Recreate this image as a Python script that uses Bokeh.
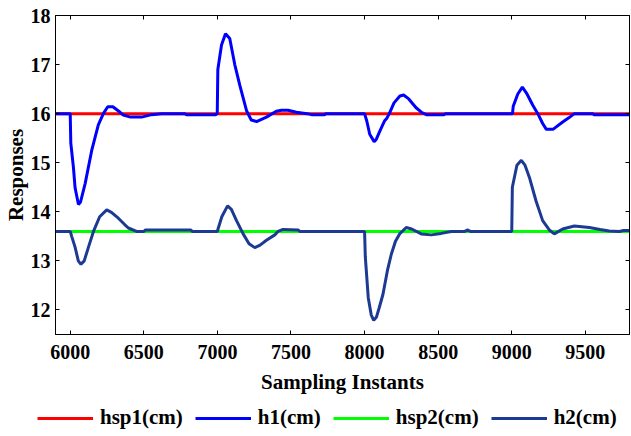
from bokeh.plotting import figure
from bokeh.layouts import column
from bokeh.models import Range1d, LinearAxis, Legend, LegendItem, FixedTicker, CustomJSTickFormatter
from bokeh.embed import file_html
from bokeh.resources import INLINE

# ---- data ----
sp_t = [5900, 9800]
hsp1 = [16.0, 16.0]
hsp2 = [13.6, 13.6]

h1_t = [5900, 6000, 6004, 6022, 6033, 6056, 6070, 6101, 6146, 6191, 6225, 6255, 6290,
        6330, 6361, 6410, 6485, 6553, 6620, 6780, 6790, 6990, 6999, 7003, 7028, 7055,
        7084, 7118, 7152, 7198, 7230, 7266, 7333, 7400, 7435, 7480, 7537, 7610, 7639,
        7729, 7735, 8000, 8015, 8035, 8065, 8080, 8100, 8120, 8135, 8150, 8168, 8200,
        8240, 8265, 8300, 8350, 8390, 8420, 8541, 8550, 9005, 9010, 9041, 9072, 9100,
        9143, 9177, 9210, 9235, 9280, 9346, 9390, 9425, 9550, 9560, 9800]
h1_v = [16.0, 16.0, 15.40, 14.90, 14.49, 14.15, 14.20, 14.57, 15.25, 15.77, 16.00, 16.14, 16.14,
        16.05, 15.97, 15.93, 15.93, 15.98, 16.00, 16.00, 15.98, 15.98, 16.00, 16.90, 17.40, 17.63,
        17.53, 17.00, 16.58, 16.06, 15.87, 15.84, 15.93, 16.05, 16.07, 16.07, 16.03, 16.00, 15.98,
        15.98, 16.00, 16.00, 15.85, 15.58, 15.43, 15.48, 15.62, 15.75, 15.85, 15.90, 16.00, 16.22,
        16.36, 16.38, 16.30, 16.12, 16.02, 15.98, 15.98, 16.00, 16.00, 16.15, 16.40, 16.54, 16.42,
        16.17, 16.00, 15.80, 15.68, 15.68, 15.83, 15.92, 16.00, 16.00, 15.98, 15.98]

h2_t = [5900, 6000, 6010, 6033, 6055, 6073, 6095, 6124, 6158, 6200, 6248, 6280, 6327,
        6370, 6395, 6451, 6500, 6510, 6820, 6830, 6999, 7030, 7069, 7095, 7130, 7175,
        7215, 7254, 7290, 7333, 7390, 7412, 7446, 7548, 7560, 8000, 8005, 8025, 8045,
        8062, 8080, 8100, 8125, 8155, 8182, 8210, 8238, 8283, 8320, 8385, 8453, 8521,
        8589, 8680, 8702, 8720, 9000, 9004, 9035, 9065, 9090, 9120, 9165, 9210, 9255,
        9289, 9346, 9425, 9527, 9600, 9662, 9730, 9760, 9800]
h2_v = [13.60, 13.60, 13.50, 13.28, 13.00, 12.93, 13.00, 13.28, 13.60, 13.90, 14.04, 13.99, 13.87,
        13.74, 13.67, 13.60, 13.60, 13.63, 13.63, 13.60, 13.60, 13.90, 14.12, 14.05, 13.82, 13.55,
        13.35, 13.27, 13.32, 13.42, 13.53, 13.60, 13.64, 13.63, 13.60, 13.60, 13.08, 12.25, 11.90,
        11.79, 11.85, 12.05, 12.32, 12.80, 13.14, 13.40, 13.55, 13.68, 13.65, 13.55, 13.53, 13.56,
        13.60, 13.60, 13.63, 13.60, 13.60, 14.50, 14.95, 15.05, 14.95, 14.70, 14.22, 13.82, 13.63,
        13.55, 13.65, 13.71, 13.68, 13.64, 13.61, 13.60, 13.62, 13.62]

x_ticks = [6000, 6500, 7000, 7500, 8000, 8500, 9000, 9500]
y_ticks = [12, 13, 14, 15, 16, 17, 18]
labels = ["hsp1(cm)", "h1(cm)", "hsp2(cm)", "h2(cm)"]
colors = ["#ff0000", "#0000ff", "#00ff00", "#1c3a94"]

FONT = "Liberation Serif"

p = figure(width=631, height=400, output_backend="svg", toolbar_location=None,
           x_range=Range1d(5900, 9800), y_range=Range1d(11.5, 18),
           min_border_left=54, min_border_right=2, min_border_top=15, min_border_bottom=66)
p.xgrid.visible = False
p.ygrid.visible = False
p.outline_line_color = "black"
p.background_fill_color = "white"
p.border_fill_color = "white"

series = [(sp_t, hsp1), (h1_t, h1_v), (sp_t, hsp2), (h2_t, h2_v)]
for (xs, ys), c in zip(series, colors):
    p.line(xs, ys, line_color=c, line_width=3)

for ax, tk in ((p.xaxis, x_ticks), (p.yaxis, y_ticks)):
    ax.ticker = FixedTicker(ticks=tk)
    ax.major_tick_in = 4
    ax.major_tick_out = 0
    ax.minor_tick_in = 0
    ax.minor_tick_out = 0
    ax.major_label_text_font = FONT
    ax.major_label_text_font_style = "bold"
    ax.major_label_text_font_size = "20px"
    ax.major_label_text_color = "black"
    ax.axis_label_text_font = FONT
    ax.axis_label_text_font_style = "bold"
    ax.axis_label_text_font_size = "21px"
    ax.axis_label_text_color = "black"
    ax.axis_line_color = "black"
    ax.major_tick_line_color = "black"

p.xaxis.axis_label = "Sampling Instants"
p.yaxis.axis_label = "Responses"
p.xaxis.major_label_standoff = 10
p.yaxis.major_label_standoff = 5
p.xaxis.axis_label_standoff = 8
p.yaxis.axis_label_standoff = 0

blank = CustomJSTickFormatter(code="return ''")
for loc, tk in (("above", x_ticks), ("right", y_ticks)):
    a = LinearAxis(ticker=FixedTicker(ticks=tk), formatter=blank, major_tick_in=4,
                   major_tick_out=0, minor_tick_in=0, minor_tick_out=0,
                   major_label_standoff=0, axis_line_color="black")
    p.add_layout(a, loc)

# legend strip below the plot (its sample lines lie outside its own view)
lg = figure(width=631, height=36, output_backend="svg", toolbar_location=None,
            x_range=Range1d(0, 1), y_range=Range1d(0, 1),
            x_axis_type=None, y_axis_type=None,
            min_border_left=0, min_border_right=0, min_border_top=0, min_border_bottom=0)
lg.xgrid.visible = False
lg.ygrid.visible = False
lg.outline_line_color = None
lg.border_fill_color = "white"
lg.background_fill_color = "white"
lrs = [lg.line(xs, ys, line_color=c, line_width=3) for (xs, ys), c in zip(series, colors)]
items = [LegendItem(label=l, renderers=[r]) for l, r in zip(labels, lrs)]

x_off = 37
try:
    lg.frame_align = False
    p.frame_align = False
except Exception:
    x_off = 37 - 54

legend = Legend(items=items, orientation="horizontal", location=(x_off, 6),
                glyph_width=56, glyph_height=20, label_standoff=7, spacing=12,
                padding=0, margin=0, border_line_color=None, background_fill_alpha=0,
                label_text_font=FONT, label_text_font_style="bold",
                label_text_font_size="21px", label_text_color="black")
lg.add_layout(legend)

open("out.html", "w").write(file_html(column(p, lg, spacing=0), INLINE))
